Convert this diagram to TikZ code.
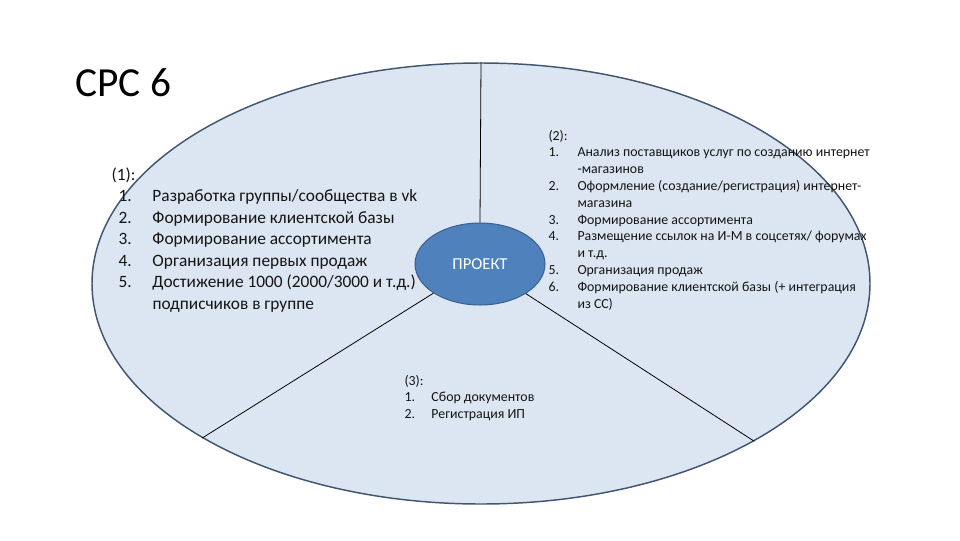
\documentclass[tikz,border=0pt]{standalone}
\usepackage{fontspec}
\setmainfont{Carlito}
\usetikzlibrary{shapes.geometric}

\definecolor{fieldfill}{RGB}{220,230,242}
\definecolor{fielddraw}{RGB}{66,86,112}
\definecolor{projfill}{RGB}{79,129,189}
\definecolor{projdraw}{RGB}{58,96,142}
\definecolor{listtext}{RGB}{20,20,20}

\tikzset{every picture/.style={line width=0.75pt}}
\tikzset{
  field/.style={ellipse, draw=fielddraw, fill=fieldfill, line width=1.1pt, inner sep=0pt, minimum width=583.5pt, minimum height=330.75pt},
  proj/.style={ellipse, draw=projdraw, fill=projfill, line width=0.75pt, inner sep=0pt, minimum width=97.5pt, minimum height=61.5pt, text=white, font=\fontsize{12.5}{14}\selectfont},
  sector/.style={draw=black, line width=0.6pt},
  biglist/.style={anchor=base west, inner sep=0pt, text=listtext, font=\fontsize{13}{16.1}\selectfont},
  smalllist/.style={anchor=base west, inner sep=0pt, text=listtext, font=\fontsize{10.4}{12.6}\selectfont}
}

\begin{document}
\begin{tikzpicture}[x=0.75pt,y=0.75pt,yscale=-1,xscale=1]
\useasboundingbox (0,0) rectangle (960,540);

%Shape: Ellipse [field]
\node [field] (field) at (481,283.5) {};
%Shape: Ellipse [project]
\node [proj] (proj) at (480,264) {ПРОЕКТ};

%Straight Lines
\draw [sector] (proj.north) -- (field.90);
\draw [sector] (proj) -- (field.209.3);
\draw [sector] (proj) -- (field.330.4);

% Text Node
\node [anchor=base west, inner sep=0pt, font=\fontsize{31}{36}\selectfont] (title) at (75,96) {СРС 6};

% Text Node
\node [biglist] (list1) at (118,180.5) {\begin{tabular}[t]{@{}p{25.5pt}@{}l@{}}
\multicolumn{2}{@{}l@{}}{\hspace*{-5.25pt}(1):}\\
1. & Разработка группы/сообщества в vk\\
2. & Формирование клиентской базы\\
3. & Формирование ассортимента\\
4. & Организация первых продаж\\
5. & Достижение 1000 (2000/3000 и т.д.)\\
   & подписчиков в группе
\end{tabular}};

% Text Node
\node [smalllist] (list2) at (548,140) {\begin{tabular}[t]{@{}p{21.75pt}@{}l@{}}
\multicolumn{2}{@{}l@{}}{(2):}\\
1. & Анализ поставщиков услуг по созданию интернет\\
   & -магазинов\\
2. & Оформление (создание/регистрация) интернет-\\
   & магазина\\
3. & Формирование ассортимента\\
4. & Размещение ссылок на И-М в соцсетях/ форумах\\
   & и т.д.\\
5. & Организация продаж\\
6. & Формирование клиентской базы (+ интеграция\\
   & из СС)
\end{tabular}};

% Text Node
\node [smalllist] (list3) at (404,385) {\begin{tabular}[t]{@{}p{20.25pt}@{}l@{}}
\multicolumn{2}{@{}l@{}}{(3):}\\
1. & Сбор документов\\
2. & Регистрация ИП
\end{tabular}};

\end{tikzpicture}
\end{document}
